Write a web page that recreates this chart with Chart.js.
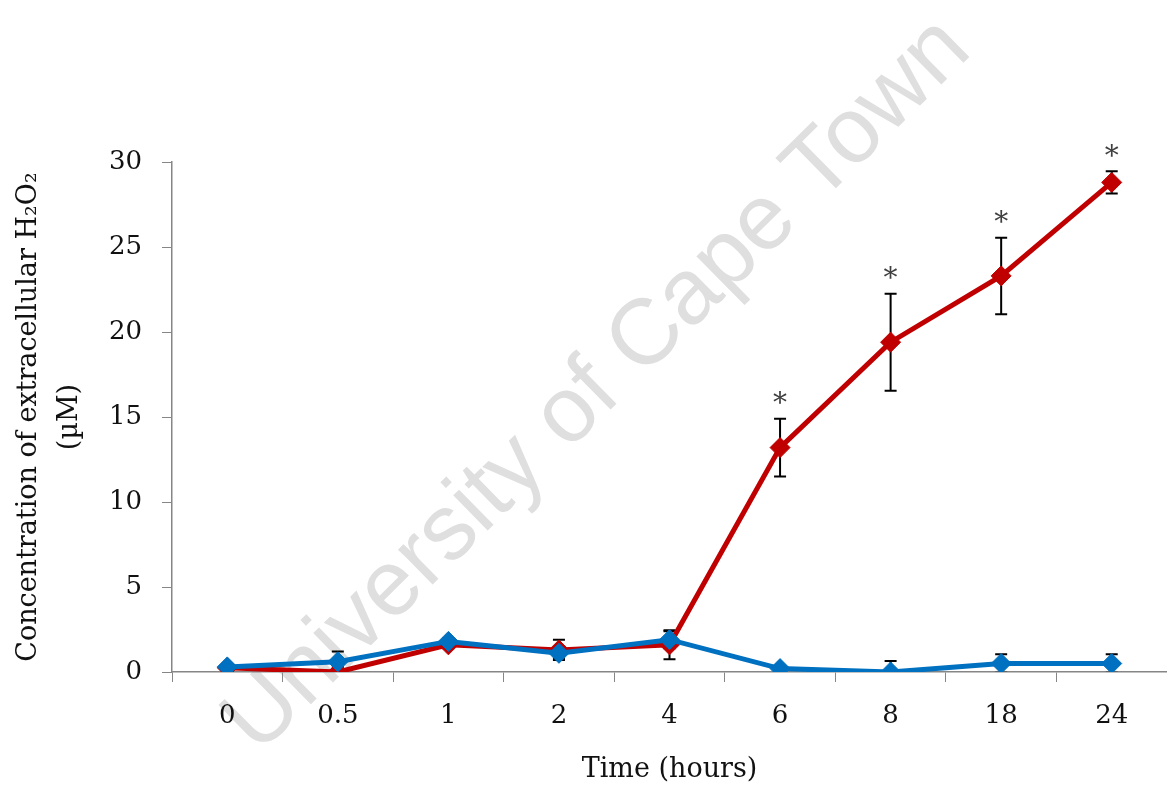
<!DOCTYPE html>
<html>
<head>
<meta charset="utf-8">
<script src="https://cdn.jsdelivr.net/npm/chart.js@4/dist/chart.umd.min.js"></script>
<style>
    html, body { margin: 0; padding: 0; background: #fff; }
    #wrap { width: 1167px; height: 786px; }
</style>
</head>
<body>
<div id="wrap"><canvas id="chart" width="1167" height="786"></canvas></div>
<script>
// Time points (hours)
var categories = ['0', '0.5', '1', '2', '4', '6', '8', '18', '24'];

// Extracellular H2O2 (uM), red series and its error bars
var treated = [0.25, 0.0, 1.6, 1.3, 1.6, 13.2, 19.4, 23.3, 28.8];
var treatedErr = [0.1, 0.3, 0.2, 0.6, 0.85, 1.7, 2.85, 2.25, 0.65];
var treatedSig = [false, false, false, false, false, true, true, true, true];

// Blue series and its error bars
var control = [0.3, 0.6, 1.8, 1.1, 1.9, 0.2, 0.0, 0.5, 0.5];
var controlErr = [0.1, 0.6, 0.2, 0.3, 0.5, 0.1, 0.65, 0.55, 0.55];

var yTicks = [0, 30, 5];

var serif = '"DejaVu Serif", serif';
var axisGrey = '#868686';

/**
 * Error bars behind the lines, clipped to the plot area
 */
var errorBars = {
    id: 'errorBars',
    beforeDatasetsDraw: function(chart) {
        var ctx = chart.ctx;
        var area = chart.chartArea;
        var xs = chart.scales.x;
        var ys = chart.scales.y;
        ctx.save();
        ctx.beginPath();
        ctx.rect(area.left, area.top - 2, area.right - area.left, area.bottom - area.top + 2);
        ctx.clip();
        ctx.strokeStyle = '#000';
        ctx.lineWidth = 2;
        chart.data.datasets.forEach(function(ds) {
            ds.errors.forEach(function(e, i) {
                var x = xs.getPixelForValue(i);
                var top = ys.getPixelForValue(ds.data[i] + e);
                var bot = ys.getPixelForValue(ds.data[i] - e);
                ctx.beginPath();
                ctx.moveTo(x, top);
                ctx.lineTo(x, bot);
                ctx.moveTo(x - 6, top);
                ctx.lineTo(x + 6, top);
                ctx.moveTo(x - 6, bot);
                ctx.lineTo(x + 6, bot);
                ctx.stroke();
            });
        });
        ctx.restore();
    },
    afterDatasetsDraw: function(chart) {
        // significance stars above the red error bars
        var ctx = chart.ctx;
        var xs = chart.scales.x;
        var ys = chart.scales.y;
        ctx.save();
        ctx.fillStyle = '#404040';
        ctx.font = '28px ' + serif;
        ctx.textAlign = 'center';
        ctx.textBaseline = 'middle';
        treatedSig.forEach(function(s, i) {
            if (!s) {
                return;
            }
            var x = xs.getPixelForValue(i);
            var y = ys.getPixelForValue(treated[i] + treatedErr[i]) - 14;
            ctx.fillText('*', x, y);
        });
        ctx.restore();
    }
};

// Diagonal watermark, under everything else
var watermark = {
    id: 'watermark',
    beforeDraw: function(chart) {
        var ctx = chart.ctx;
        ctx.save();
        ctx.translate(598, 386);
        ctx.rotate(-44.5 * Math.PI / 180);
        ctx.font = '93px "Liberation Sans", Arial, sans-serif';
        ctx.fillStyle = '#dfdfdf';
        ctx.textAlign = 'center';
        ctx.textBaseline = 'middle';
        ctx.fillText('University of Cape Town', 0, 0);
        ctx.restore();
    }
};

var data = {
    labels: categories,
    datasets: [{
        label: 'control',
        data: control,
        errors: controlErr,
        borderColor: '#0070C0',
        backgroundColor: '#0070C0',
        order: 0
    }, {
        label: 'treated',
        data: treated,
        errors: treatedErr,
        borderColor: '#C00000',
        backgroundColor: '#C00000',
        order: 1
    }]
};

new Chart(document.getElementById('chart'), {
    type: 'line',
    data: data,
    plugins: [watermark, errorBars],
    options: {
        responsive: false,
        animation: false,
        layout: {
            autoPadding: false,
            padding: { top: 162, right: 0, bottom: 0, left: 0 }
        },
        elements: {
            line: { borderWidth: 5, tension: 0 },
            point: { pointStyle: 'rectRot', radius: 10, borderWidth: 1 }
        },
        plugins: {
            legend: { display: false },
            tooltip: { enabled: false }
        },
        scales: {
            x: {
                offset: true,
                grid: {
                    offset: true,
                    drawOnChartArea: false,
                    drawTicks: true,
                    tickLength: 10,
                    color: axisGrey
                },
                border: { color: axisGrey, width: 1.5 },
                ticks: {
                    color: '#111',
                    padding: 19,
                    font: { family: serif, size: 26 }
                },
                title: {
                    display: true,
                    text: 'Time (hours)',
                    color: '#111',
                    padding: { top: 0, bottom: 0 },
                    font: { family: serif, size: 27 }
                },
                afterFit: function(scale) {
                    scale.height = 114;
                }
            },
            y: {
                min: yTicks[0],
                max: yTicks[1],
                grid: {
                    drawOnChartArea: false,
                    drawTicks: true,
                    tickLength: 10,
                    color: axisGrey
                },
                border: { color: axisGrey, width: 1.5 },
                ticks: {
                    stepSize: yTicks[2],
                    color: '#111',
                    padding: 20,
                    font: { family: serif, size: 26 }
                },
                title: {
                    display: true,
                    text: ['Concentration of extracellular H\u2082O\u2082', '(\u00b5M)'],
                    color: '#111',
                    padding: { top: 9, bottom: 0 },
                    font: { family: serif, size: 27, lineHeight: 1.5 }
                },
                afterFit: function(scale) {
                    scale.width = 172;
                }
            }
        }
    }
});
</script>
</body>
</html>
